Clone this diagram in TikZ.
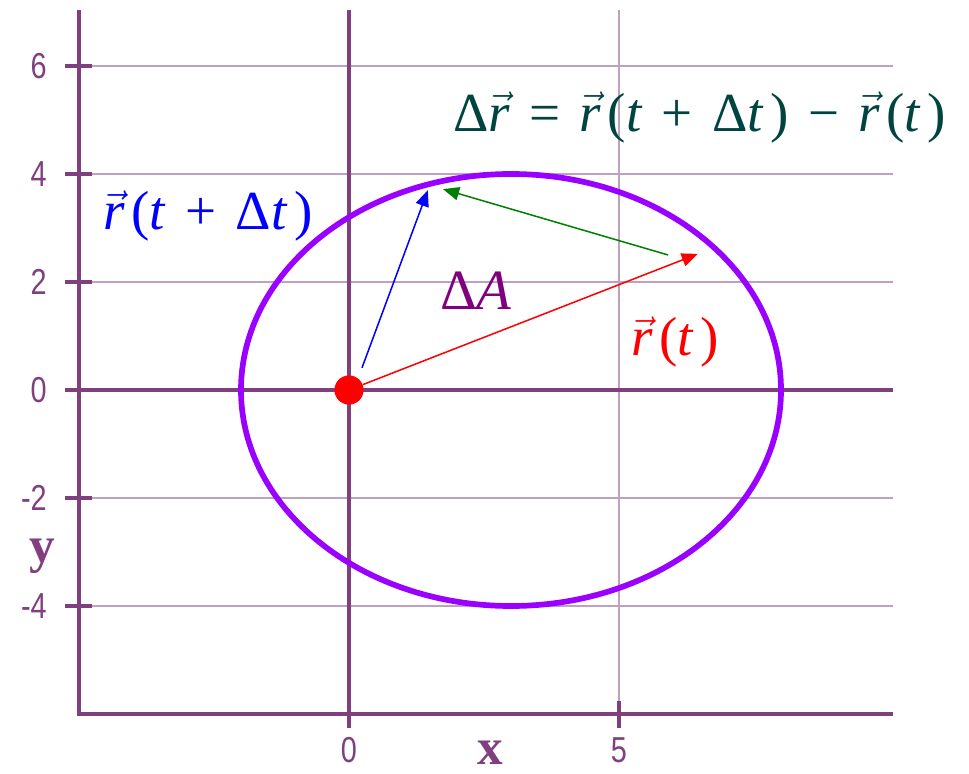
\documentclass[tikz,border=0pt]{standalone}
\usepackage{fontspec}
\setmainfont{Liberation Serif}
\newfontfamily\tickfont[FakeStretch=0.8]{Liberation Sans}
\usetikzlibrary{arrows.meta}
\definecolor{axisc}{RGB}{128,64,128}
\definecolor{gridc}{RGB}{192,160,192}
\definecolor{orbitc}{RGB}{153,0,255}
\definecolor{tealc}{RGB}{0,68,64}
\definecolor{areac}{RGB}{128,0,128}
\definecolor{greenc}{RGB}{0,128,0}
\newcommand{\myvr}{\ensuremath{\vec{\textit{r}}}\hspace{0.12em}}
\newcommand{\myt}{\textit{t}\hspace{0.12em}}
\newcommand{\osp}{\hspace{0.35em}}
\begin{document}
\begin{tikzpicture}[x=1cm,y=1cm,
  gridl/.style={gridc, line width=1.5pt},
  axisl/.style={axisc, line width=1.7pt},
  ticklab/.style={text=axisc, font=\tickfont\fontsize{19}{20}\selectfont, inner sep=0pt},
  axname/.style={text=axisc, font=\bfseries\fontsize{27}{30}\selectfont, inner sep=0pt},
  vecarrow/.style={line width=0.8pt, -{Triangle[length=8.5pt,width=7pt]}},
  formula/.style={inner sep=0pt, font=\fontsize{29}{33}\selectfont}
]
\useasboundingbox (-6.463,-7.093) rectangle (11.481,7.222);
% light grid
\foreach \y in {-4,-2,2,4,6} \draw[gridl] (-5,\y) -- (10.07,\y);
\draw[gridl] (5,7.04) -- (5,-6);
% ticks
\foreach \y in {-4,-2,2,4,6} \draw[axisl] (-5.26,\y) -- (-4.76,\y);
\draw[axisl] (5,-5.76) -- (5,-6.26);
% axes and frame
\draw[axisl] (-5.26,0) -- (10.07,0);
\draw[axisl] (0,7.04) -- (0,-6.26);
\draw[axisl] (-5,7.04) -- (-5,-6) -- (10.07,-6);
% orbit
\draw[orbitc, line width=3pt] (3,0) ellipse [x radius=5, y radius=4];
% sun
\node[circle, fill=red, minimum size=0.54cm, inner sep=0pt] (sun) at (0,0) {};
% arrow end points
\coordinate (rt) at (6.46,2.52);
\coordinate (rdt) at (1.46,3.70);
\coordinate (bstart) at (0.24,0.41);
\coordinate (gstart) at (5.91,2.50);
\coordinate (gend) at (1.74,3.72);
\draw[vecarrow, red] (sun) -- (rt);
\draw[vecarrow, blue] (bstart) -- (rdt);
\draw[vecarrow, greenc] (gstart) -- (gend);
% labels
\node[formula, text=tealc, anchor=west] (drlab) at (1.926,5.04) {Δ\ensuremath{\vec{\textit{r}}}\osp=\osp\myvr(\textit{t}\osp+\osp Δ\myt)\osp−\osp\myvr(\myt)};
\node[formula, text=blue, anchor=west] (rdtlab) at (-4.556,3.22) {\myvr(\textit{t}\osp+\osp Δ\myt)};
\node[formula, text=red, anchor=west] (rtlab) at (5.22,0.89) {\myvr(\myt)};
\node[inner sep=0pt, text=areac, font=\fontsize{30}{34}\selectfont, anchor=west] (dA) at (1.685,1.83) {Δ\textit{A}};
% tick labels
\foreach \y in {6,4,2,0,-2,-4} \node[ticklab, anchor=east] (yl\y) at (-5.59,\y) {\y};
\node[ticklab] (xl0) at (0,-6.67) {0};
\node[ticklab] (xl5) at (5,-6.67) {5};
\node[axname] (xname) at (2.61,-6.72) {x};
\node[axname] (yname) at (-5.685,-3.07) {y};
\end{tikzpicture}
\end{document}
